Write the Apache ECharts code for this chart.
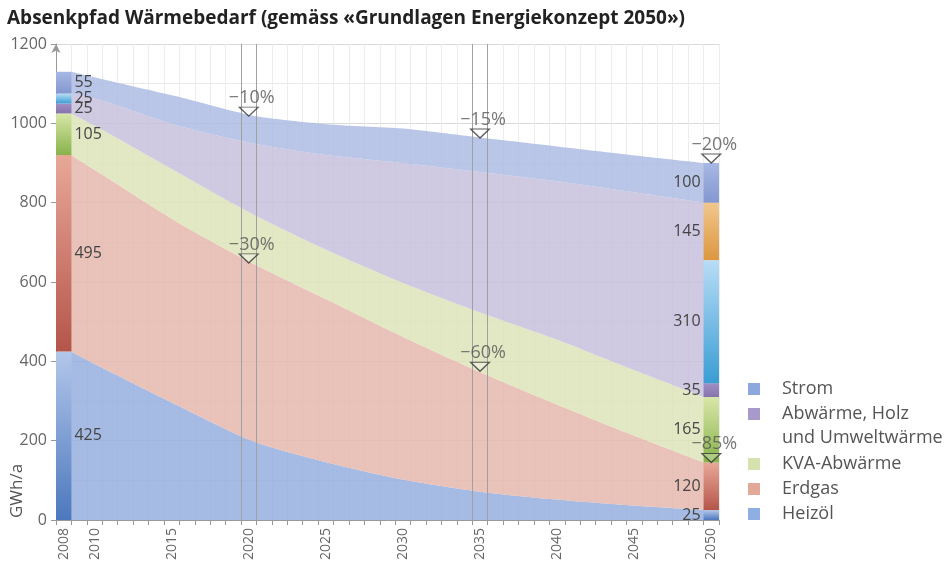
<!DOCTYPE html>
<html>
<head>
<meta charset="utf-8">
<script src="https://cdn.jsdelivr.net/npm/echarts@6/dist/echarts.min.js"></script>
<style>
html,body{margin:0;padding:0;background:#fff;}
#chart{width:949px;height:566px;}
</style>
</head>
<body>
<div id="chart"></div>
<script>
// ---- categories / ticks ----
const firstYear = 2008, lastYear = 2050;
const years = [];
for (let y = firstYear; y <= lastYear; y++) years.push(String(y));
const tickLabels = ['2008','2010','2015','2020','2025','2030','2035','2040','2045','2050'];
// hidden axis used by the areas (one extra slot on each side)
const areaAxisYears = [];
for (let y = firstYear - 1; y <= lastYear + 1; y++) areaAxisYears.push(String(y));

// ---- area series (GWh/a) ----
const areaYears   = ['2008','2010','2015','2020','2025','2030','2035','2040','2045','2050'];
const heizoel     = [425, 385, 290, 200, 145, 102,  72,  52,  37,  25];
const erdgas      = [495, 487, 462, 448, 410, 360, 303, 243, 181, 120];
const kva         = [105, 113, 126, 124, 125, 136, 150, 163, 165, 165];
const abwaerme    = [ 50,  73, 117, 178, 240, 302, 353, 397, 445, 490];
const strom       = [ 55,  54,  73,  70,  78,  87,  87,  88,  93, 100];

// ---- stacked bars at 2008 and 2050 ----
const barSegments = ['Heizöl','Erdgas','KVA-Abwärme','Abwärme','Umweltwärme','Holz','Strom'];
const bar2008 = [425, 495, 105, 25, 25, null, 55];
const bar2050 = [ 25, 120, 165, 35, 310, 145, 100];

// ---- reduction markers ----
const markerCats   = ['2020','2020','2035','2035','2050','2050'];
const markerValues = [1018, 648, 963, 375, 900, 145];
const markerLabels = ['−10%','−30%','−15%','−60%','−20%','−85%'];
const markerYears  = [2020, 2035];

const seriesNames = ['Heizöl','Erdgas','KVA-Abwärme','Abwärme, Holz und Umweltwärme','Strom'];
const areaValues = [heizoel, erdgas, kva, abwaerme, strom];

const FONT = 'Open Sans';
const areaColors = ['rgba(151,175,223,0.85)','rgba(229,183,173,0.85)','rgba(222,228,186,0.85)','rgba(200,192,221,0.85)','rgba(174,188,228,0.85)'];
const legendColors = ['#8faee2','#e2a898','#d5e2b0','#a899cb','#8ea7dd'];
const barGrad = [
  ['#b3c7ea','#4c78bd'],
  ['#e8a897','#b5554a'],
  ['#d8e7a8','#88b24a'],
  ['#a08fc4','#8673ae'],
  ['#b8ddf6','#3a9dd4'],
  ['#f1c78e','#dc973f'],
  ['#a7b8e4','#8497cf']
];

function grad(c){
  return new echarts.graphic.LinearGradient(0,0,0,1,[{offset:0,color:c[0]},{offset:1,color:c[1]}]);
}

const series = [];

// dark vertical lines around 2020 and 2035
series.push({
  type:'line', xAxisIndex:2, yAxisIndex:0, data:[], silent:true, z:1,
  markLine:{
    silent:true, symbol:['none','none'], label:{show:false},
    lineStyle:{color:'#a0a0a0', width:1, type:'solid'},
    data: markerYears.flatMap(y => [{xAxis:y-0.5},{xAxis:y+0.5}])
  }
});

// stacked areas
seriesNames.forEach((n,i) => {
  series.push({
    name:n, type:'line', xAxisIndex:1, yAxisIndex:0, stack:'area', smooth:0.25,
    symbol:'none', lineStyle:{width:0}, z:2,
    itemStyle:{color:legendColors[i]},
    areaStyle:{color:areaColors[i], opacity:1},
    emphasis:{disabled:true},
    data: areaYears.map((y,k) => [y, areaValues[i][k]])
  });
});

// stacked bars
barSegments.forEach((n,i) => {
  const data = years.map(() => null);
  if (bar2008[i] != null) data[0] = {value:bar2008[i], label:{position:'right'}};
  if (bar2050[i] != null) data[years.length-1] = {value:bar2050[i], label:{position:'left'}};
  series.push({
    name:'bar_'+n, type:'bar', xAxisIndex:0, yAxisIndex:0, stack:'bars',
    barWidth:'100%', barCategoryGap:'0%', z:3,
    itemStyle:{color:grad(barGrad[i])},
    label:{show:true, formatter:'{c}', distance:3, fontSize:16, color:'#444', fontFamily:FONT},
    emphasis:{disabled:true},
    data:data
  });
});

// reduction markers
series.push({
  type:'scatter', xAxisIndex:0, yAxisIndex:0, z:5,
  symbol:'path://M0,0L20,0L10,9Z', symbolSize:[19,9], symbolOffset:[0,-4.5],
  itemStyle:{color:'rgba(255,255,255,0.35)', borderColor:'#333', borderWidth:1.2},
  label:{show:true, position:'top', distance:0, offset:[3,0], formatter:'{b}', fontSize:18, color:'#555', fontFamily:FONT},
  emphasis:{disabled:true},
  data: markerCats.map((c,i) => ({name:markerLabels[i], value:[c, markerValues[i]]}))
});

const legendText = {fontSize:18, lineHeight:25, color:'#555', fontFamily:FONT, padding:[0,0,0,17]};

const option = {
  animation:false,
  backgroundColor:'#fff',
  title:{
    text:'Absenkpfad Wärmebedarf (gemäss «Grundlagen Energiekonzept 2050»)',
    left:2, top:4,
    textStyle:{fontSize:19, fontWeight:'bold', color:'#222', fontFamily:FONT}
  },
  legend:[
    {orient:'vertical', left:748, top:376.5, padding:0, itemWidth:12, itemHeight:12, itemGap:0, icon:'rect',
     selectedMode:false, textStyle:legendText,
     formatter: n => n === seriesNames[3] ? 'Abwärme, Holz' : n,
     data:[{name:seriesNames[4], itemStyle:{color:legendColors[4]}},
           {name:seriesNames[3], itemStyle:{color:legendColors[3]}}]},
    {orient:'vertical', left:748, top:451.5, padding:0, itemWidth:12, itemHeight:12, itemGap:0, icon:'rect',
     selectedMode:false, textStyle:legendText,
     data:[{name:seriesNames[2], itemStyle:{color:legendColors[2]}},
           {name:seriesNames[1], itemStyle:{color:legendColors[1]}},
           {name:seriesNames[0], itemStyle:{color:legendColors[0]}}]}
  ],
  graphic:[
    {type:'text', left:782, top:429, style:{text:'und Umweltwärme', fontSize:18, fill:'#555', fontFamily:FONT}},
    {type:'text', x:17, y:491, rotation:Math.PI/2,
     style:{text:'GWh/a', fontSize:17, fill:'#555', fontFamily:FONT, align:'center', verticalAlign:'middle'}}
  ],
  grid:{left:56, right:230, top:44, bottom:46, containLabel:false},
  xAxis:[
    {type:'category', data:years, boundaryGap:true,
     axisLine:{lineStyle:{color:'#999'}},
     axisTick:{show:true, interval:0, length:5, lineStyle:{color:'#999'}},
     axisLabel:{interval:(i,v) => tickLabels.includes(v), rotate:90, fontSize:14, color:'#666', margin:8, fontFamily:FONT},
     splitLine:{show:true, interval:0, lineStyle:{color:'#ececec'}}},
    {type:'category', data:areaAxisYears, boundaryGap:false, show:false},
    {type:'value', min:firstYear-0.5, max:lastYear+0.5, show:false}
  ],
  yAxis:{
    type:'value', min:0, max:1200, interval:200,
    axisLine:{show:true, symbol:['none','arrow'], symbolSize:[7,9], lineStyle:{color:'#999'}},
    axisTick:{show:true, length:5, lineStyle:{color:'#999'}},
    axisLabel:{fontSize:16, color:'#666', margin:9, fontFamily:FONT, formatter: v => String(v)},
    splitLine:{lineStyle:{color:'#d9d9d9'}},
    minorTick:{show:false, splitNumber:2},
    minorSplitLine:{show:true, lineStyle:{color:'#e8e8e8'}}
  },
  series:series
};

try {
  const chart = echarts.init(document.getElementById('chart'), null, {renderer:'canvas'});
  chart.setOption(option);
} catch (e) {
  document.body.insertAdjacentHTML('beforeend', '<pre>' + e + '</pre>');
}
</script>
</body>
</html>
